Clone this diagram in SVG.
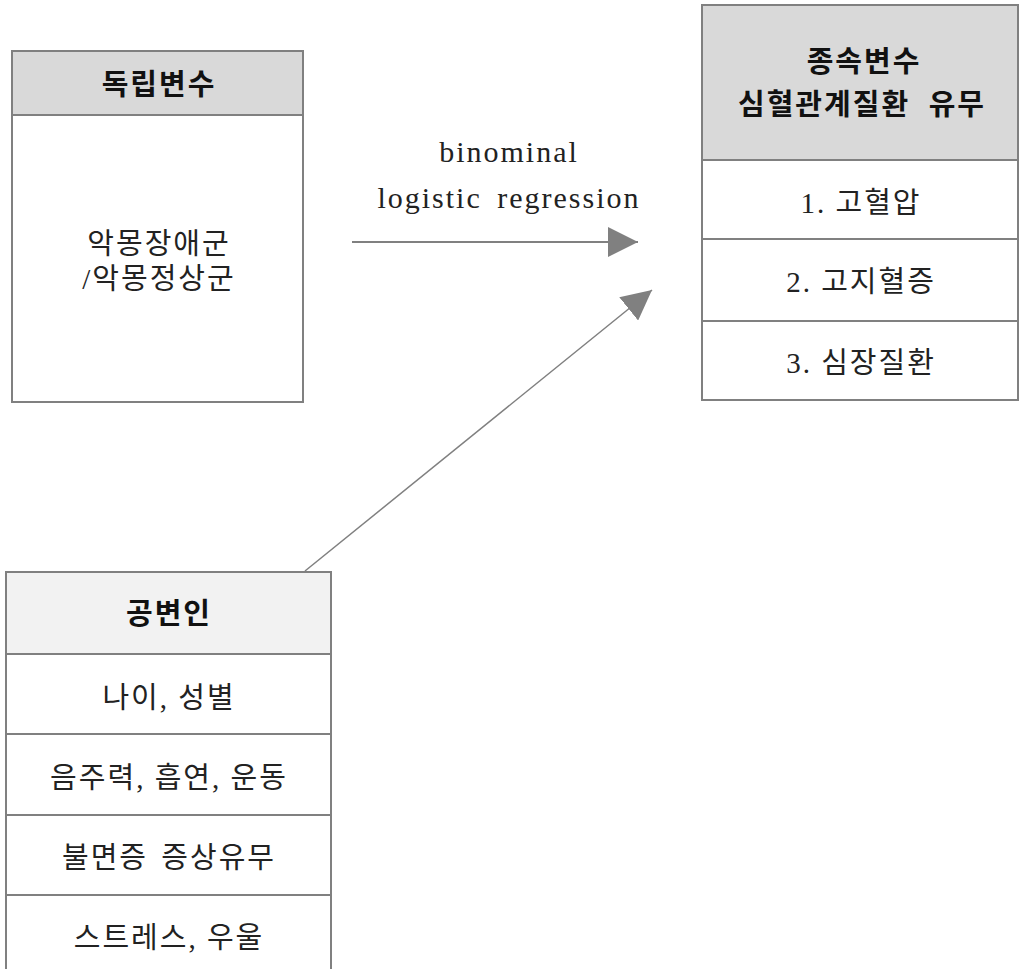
<svg xmlns="http://www.w3.org/2000/svg" width="1019" height="969" viewBox="0 0 1019 969">
<style>
.box{fill:#ffffff;stroke:#808080;stroke-width:2}
.hd1{fill:#d9d9d9;stroke:#808080;stroke-width:2}
.hd2{fill:#f2f2f2;stroke:#808080;stroke-width:2}
.div{stroke:#808080;stroke-width:2;fill:none}
.t{font-family:"Liberation Serif","Noto Sans CJK KR",serif;font-size:29px;fill:#222;text-anchor:middle;letter-spacing:2px}
.b{font-family:"Noto Sans CJK KR",sans-serif;font-size:29px;font-weight:bold;fill:#111;text-anchor:middle;letter-spacing:2px}
.lat{font-family:"Liberation Serif",serif;font-size:30px;fill:#222;text-anchor:middle;letter-spacing:2px}
.conn{stroke:#808080;fill:none}
</style>
<defs>
<marker id="arr" markerUnits="userSpaceOnUse" markerWidth="30" markerHeight="30" refX="30" refY="15" orient="auto" viewBox="0 0 30 30">
<path d="M0,0 L30,15 L0,30 Z" fill="#808080"/>
</marker>
</defs>
<rect width="1019" height="969" fill="#ffffff"/>

<g id="node-independent">
<rect class="box" x="12" y="51" width="291" height="351"/>
<rect class="hd1" x="12" y="51" width="291" height="64"/>
<text class="b" x="159" y="95">독립변수</text>
<text class="t" x="159" y="254">악몽장애군</text>
<text class="t" x="159" y="289">/악몽정상군</text>
</g>

<g id="node-dependent">
<rect class="box" x="702" y="5" width="316" height="395"/>
<rect class="hd1" x="702" y="5" width="316" height="155"/>
<text class="b" x="864" y="72">종속변수</text>
<text class="b" x="862" y="115" style="word-spacing:10px">심혈관계질환 유무</text>
<line class="div" x1="702" y1="239" x2="1018" y2="239"/>
<line class="div" x1="702" y1="321" x2="1018" y2="321"/>
<text class="t" x="861" y="213">1. 고혈압</text>
<text class="t" x="861" y="292">2. 고지혈증</text>
<text class="t" x="861" y="373">3. 심장질환</text>
</g>

<g id="node-covariates">
<path class="div" d="M6,969 L6,572 L331,572 L331,969"/>
<rect class="hd2" x="6" y="572" width="325" height="82"/>
<line class="div" x1="6" y1="734" x2="331" y2="734"/>
<line class="div" x1="6" y1="815" x2="331" y2="815"/>
<line class="div" x1="6" y1="895" x2="331" y2="895"/>
<text class="b" x="169" y="624">공변인</text>
<text class="t" x="169" y="708">나이, 성별</text>
<text class="t" x="169" y="788">음주력, 흡연, 운동</text>
<text class="t" x="169" y="868" style="word-spacing:4px">불면증 증상유무</text>
<text class="t" x="169" y="948">스트레스, 우울</text>
</g>

<g id="connectors">
<line class="conn" x1="352" y1="242" x2="638" y2="242" stroke-width="2" marker-end="url(#arr)"/>
<line class="conn" x1="305" y1="571" x2="652" y2="290" stroke-width="1.5" marker-end="url(#arr)"/>
<text class="lat" x="509" y="162">binominal</text>
<text class="lat" x="509" y="208" style="word-spacing:6px">logistic regression</text>
</g>
</svg>
